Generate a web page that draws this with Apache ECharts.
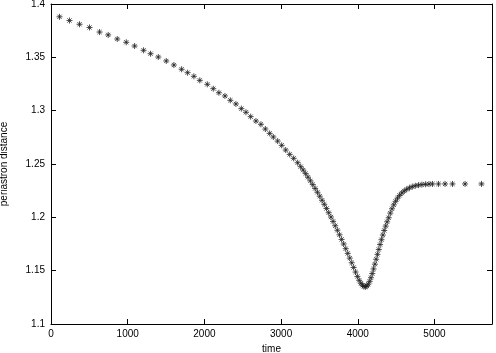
<!DOCTYPE html>
<html>
<head>
<meta charset="utf-8">
<script src="https://cdn.jsdelivr.net/npm/echarts@6/dist/echarts.min.js"></script>
<style>
  html, body { margin: 0; padding: 0; background: #fff; }
  #chart { width: 496px; height: 353px; }
</style>
</head>
<body>
<div id="chart"></div>
<script>
// time of each periastron sample
const times = [
  111, 241, 372, 502, 633, 746, 864, 981, 1090, 1207,
  1298, 1399, 1503, 1602, 1703, 1781, 1863, 1940, 2038, 2116,
  2189, 2268, 2338, 2411, 2482, 2542, 2603, 2672, 2737, 2795,
  2851, 2899, 2955, 3008, 3060, 3112, 3164, 3216, 3255, 3288,
  3320, 3351, 3382, 3413, 3444, 3474, 3504, 3534, 3563, 3592,
  3621, 3650, 3678, 3706, 3734, 3762, 3789, 3816, 3843, 3869,
  3895, 3921, 3946, 3971, 3995, 4018, 4040, 4061, 4081, 4100,
  4119, 4137, 4155, 4172, 4189, 4206, 4223, 4240, 4257, 4274,
  4291, 4309, 4327, 4345, 4364, 4383, 4403, 4424, 4446, 4469,
  4493, 4518, 4545, 4574, 4605, 4638, 4673, 4710, 4750, 4792,
  4836, 4882, 4928, 4974, 5052, 5138, 5235, 5399, 5613
];
// periastron distance at each sample
const distances = [
  1.3880, 1.3845, 1.3810, 1.3780, 1.3737, 1.3710, 1.3672, 1.3641, 1.3606, 1.3566,
  1.3534, 1.3503, 1.3466, 1.3428, 1.3388, 1.3356, 1.3322, 1.3284, 1.3247, 1.3206,
  1.3168, 1.3138, 1.3097, 1.3063, 1.3019, 1.2985, 1.2944, 1.2903, 1.2872, 1.2828,
  1.2787, 1.2753, 1.2715, 1.2675, 1.2631, 1.2590, 1.2553, 1.2512, 1.2475, 1.2443,
  1.2410, 1.2376, 1.2342, 1.2307, 1.2271, 1.2235, 1.2198, 1.2160, 1.2122, 1.2083,
  1.2043, 1.2003, 1.1962, 1.1921, 1.1879, 1.1836, 1.1793, 1.1750, 1.1706, 1.1662,
  1.1618, 1.1574, 1.1530, 1.1487, 1.1446, 1.1410, 1.1382, 1.1363, 1.1352, 1.1349,
  1.1356, 1.1373, 1.1400, 1.1434, 1.1473, 1.1516, 1.1561, 1.1607, 1.1653, 1.1699,
  1.1745, 1.1790, 1.1834, 1.1877, 1.1918, 1.1958, 1.1996, 1.2040, 1.2080, 1.2117,
  1.2150, 1.2180, 1.2206, 1.2228, 1.2247, 1.2263, 1.2276, 1.2287, 1.2296, 1.2302,
  1.2307, 1.2310, 1.2312, 1.2313, 1.2313, 1.2313, 1.2313, 1.2313, 1.2313
];
const xTicks = [0, 1000, 2000, 3000, 4000, 5000];
const yTicks = [1.1, 1.15, 1.2, 1.25, 1.3, 1.35, 1.4];

let points = times.map((t, i) => [t, distances[i]]);

let myChart = echarts.init(document.getElementById("chart"));
const font = "Liberation Sans";
const lineStyle = { color: "#000", width: 1 };
const tick = { show: true, inside: true, length: 5, lineStyle: { color: "#000" } };

myChart.setOption({
  animation: false,
  grid: { left: 51, right: 4, top: 4, bottom: 29, outerBoundsMode: "none" },
  xAxis: [
    {
      type: "value",
      min: 0,
      max: 5750,
      interval: 1000,
      name: "time",
      nameLocation: "middle",
      nameGap: 19,
      nameTextStyle: { fontFamily: font, fontSize: 10, color: "#000" },
      axisLine: { show: true, onZero: false, lineStyle: lineStyle },
      axisTick: tick,
      splitLine: { show: false },
      axisLabel: {
        margin: 5,
        fontFamily: font,
        fontSize: 10,
        color: "#000",
        formatter: v => (xTicks.indexOf(v) >= 0 ? String(v) : ""),
      },
    },
    {
      type: "value",
      position: "top",
      min: 0,
      max: 5750,
      interval: 1000,
      axisLine: { show: true, onZero: false, lineStyle: lineStyle },
      axisTick: tick,
      axisLabel: { show: false },
      splitLine: { show: false },
    },
  ],
  yAxis: [
    {
      type: "value",
      min: 1.1,
      max: 1.4,
      interval: 0.05,
      name: "periastron distance",
      nameLocation: "middle",
      nameGap: 42,
      nameTextStyle: { fontFamily: font, fontSize: 10, color: "#000" },
      axisLine: { show: true, onZero: false, lineStyle: lineStyle },
      axisTick: tick,
      splitLine: { show: false },
      axisLabel: {
        margin: 6,
        fontFamily: font,
        fontSize: 10,
        color: "#000",
        formatter: v => {
          let s = String(+v.toFixed(2));
          return yTicks.some(y => Math.abs(y - v) < 1e-6) ? s : "";
        },
      },
    },
    {
      type: "value",
      position: "right",
      min: 1.1,
      max: 1.4,
      interval: 0.05,
      axisLine: { show: true, onZero: false, lineStyle: lineStyle },
      axisTick: tick,
      axisLabel: { show: false },
      splitLine: { show: false },
    },
  ],
  series: [
    {
      type: "scatter",
      data: points,
      // gnuplot style asterisk marker
      symbol: "path://M0,5L10,5M5,0L5,10M1.5,1.5L8.5,8.5M8.5,1.5L1.5,8.5",
      symbolSize: 6,
      itemStyle: { color: "none", borderColor: "#222", borderWidth: 1 },
    },
  ],
});
</script>
</body>
</html>
